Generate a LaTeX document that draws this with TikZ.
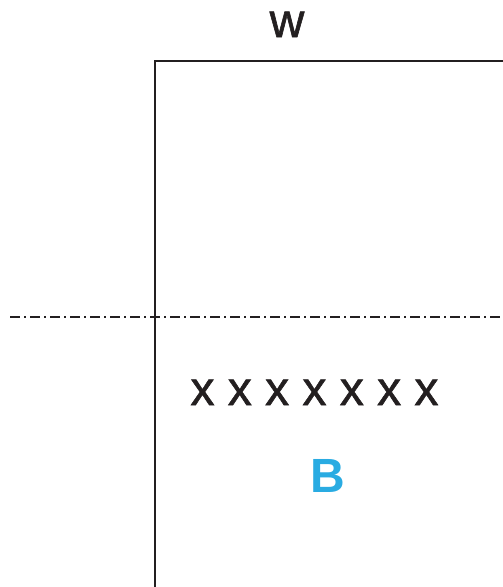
\documentclass[tikz,border=0pt]{standalone}
\usepackage{fontspec}
\setmainfont{Liberation Sans}
\newfontfamily\medfont[FakeBold=1.2]{Liberation Sans}
\usetikzlibrary{positioning}
\definecolor{labelblue}{RGB}{41,171,226}
\definecolor{inkgray}{RGB}{35,31,32}

\begin{document}
\begin{tikzpicture}[
        x=1pt, y=-1pt,
        wall/.style={draw=inkgray, line width=2.4pt},
        axisline/.style={draw=inkgray, line width=2.4pt, dash pattern=on 10pt off 4pt on 2pt off 4pt},
        txt/.style={inner sep=0pt, text=inkgray, font=\medfont\fontsize{48}{48}\selectfont}
    ]
        \useasboundingbox (0,0) rectangle (503,587);
        % frame
        \draw[wall] (155,587) -- (155,61) -- (503,61);
        \draw[axisline] (10,317) -- (503,317);
        % labels
        \node[txt, anchor=base] (wlabel) at (287,37) {w};
        \node[txt, anchor=base] (xrow) at (314.5,405) {x x x x x x x};
        \node[txt, anchor=base, text=labelblue, font=\fontsize{48}{48}\selectfont\bfseries] (blabel) at (328,492) {B};
    \end{tikzpicture}
\end{document}
